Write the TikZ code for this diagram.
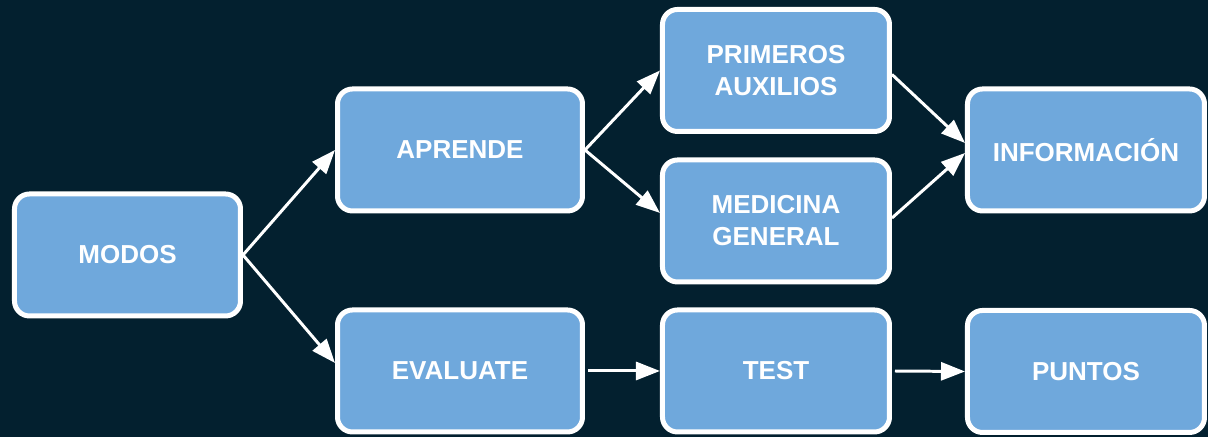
\documentclass[tikz,border=0pt]{standalone}
\usepackage{fontspec}
\setmainfont{Liberation Sans}
\usetikzlibrary{arrows.meta}
\definecolor{navy}{HTML}{03202F}
\definecolor{boxblue}{HTML}{6FA8DC}
\begin{document}
\begin{tikzpicture}[line width=0.85pt,>={Triangle[length=2.4mm,width=1.8mm]},
    box/.style={draw=white,line width=0.05cm,fill=boxblue,rounded corners=0.15cm,
        minimum height=1.22cm,align=center,text=white,
        font=\fontsize{7.4}{9.1}\selectfont\bfseries},
    arr/.style={->,draw=white}]
    \fill[navy] (0,0) rectangle (12.08,4.37);
    \useasboundingbox (0,0) rectangle (12.08,4.37);
    % boxes
    \node[box,minimum width=2.26cm] (modos) at (1.275,1.82) {MODOS};
    \node[box,minimum width=2.45cm] (aprende) at (4.60,2.87) {APRENDE};
    \node[box,minimum width=2.45cm] (evaluate) at (4.60,0.66) {EVALUATE};
    \node[box,minimum width=2.27cm] (primeros) at (7.76,3.665) {PRIMEROS\\AUXILIOS};
    \node[box,minimum width=2.27cm] (medicina) at (7.76,2.16) {MEDICINA\\GENERAL};
    \node[box,minimum width=2.27cm] (test) at (7.76,0.66) {TEST};
    \node[box,minimum width=2.37cm] (info) at (10.86,2.87) {INFORMACIÓN};
    \node[box,minimum width=2.37cm] (puntos) at (10.86,0.655) {PUNTOS};
    % arrows
    \draw[arr] (modos.east) -- (aprende.west);
    \draw[arr] (modos.east) -- ([yshift=0.08cm]evaluate.west);
    \draw[arr] (aprende.east) -- (primeros.west);
    \draw[arr] (aprende.east) -- ([yshift=0.08cm]medicina.west);
    \draw[arr] ([yshift=-0.04cm]primeros.east) -- ([yshift=0.07cm]info.west);
    \draw[arr] ([yshift=0.03cm]medicina.east) -- ([yshift=-0.03cm]info.west);
    \draw[arr,shorten <=0.03cm] (evaluate.east) -- (test.west);
    \draw[arr,shorten <=0.03cm] (test.east) -- (puntos.west);
\end{tikzpicture}
\end{document}
